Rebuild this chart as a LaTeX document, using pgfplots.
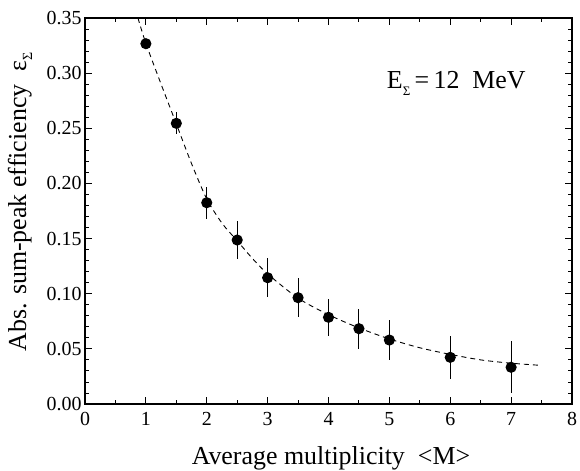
\documentclass[border=0pt]{standalone}
\usepackage{fontspec}
\setmainfont{Liberation Serif}
\usepackage{pgfplots}
\pgfplotsset{compat=1.18}
\begin{document}
\begin{tikzpicture}[x=1bp,y=1bp]
\begin{axis}[
  name=ax,
  scale only axis,
  width=487bp, height=386bp,
  xmin=0, xmax=8, ymin=0, ymax=0.35,
  xtick={0,1,...,8}, minor x tick num=1,
  ytick={0,0.05,...,0.351}, minor y tick num=4,
  tick align=inside,
  major tick length=7bp, minor tick length=4bp,
  every tick/.style={black, line width=0.9pt},
  axis line style={line width=1.1pt},
  /pgf/number format/assume math mode=true,
  yticklabel style={/pgf/number format/.cd, fixed, fixed zerofill, precision=2},
  xticklabel style={yshift=-5bp, /pgf/number format/.cd, fixed},
  tick label style={font=\fontsize{20}{23}\selectfont},
  label style={font=\fontsize{26}{30}\selectfont},
  xlabel={Average multiplicity\ \ <M>},
  ylabel={Abs. sum-peak efficiency\ \ ε\raisebox{-0.5ex}{\fontsize{14}{16}\selectfont Σ}},
  xlabel style={at={(axis description cs:0.505,-0.158)}, anchor=base},
  ylabel style={at={(axis description cs:-0.1335,0.523)}, anchor=center},
]
\addplot[black, line width=0.9pt, dash pattern=on 5bp off 4bp, smooth, tension=0.5] coordinates {
(0.87,0.350) (1.0,0.327) (1.25,0.290) (1.5,0.254) (1.75,0.218) (2.0,0.186)
(2.25,0.164) (2.5,0.148) (2.75,0.132) (3.0,0.118) (3.5,0.096) (4.0,0.081)
(4.5,0.069) (5.0,0.059) (5.5,0.051) (6.0,0.045) (6.5,0.040) (7.0,0.037) (7.5,0.035)
};
\addplot[black, only marks, mark=*, mark size=5bp, line width=1.1pt,
  error bars/.cd, y dir=both, y explicit, error mark=none,
  error bar style={line width=1.1pt}] coordinates {
(1.0,0.3267) +- (0,0)
(1.5,0.2545) +- (0,0.0100)
(2.0,0.1825) +- (0,0.0145)
(2.5,0.1487) +- (0,0.0175)
(3.0,0.1145) +- (0,0.0175)
(3.5,0.0964) +- (0,0.0177)
(4.0,0.0786) +- (0,0.0168)
(4.5,0.0683) +- (0,0.0180)
(5.0,0.0580) +- (0,0.0180)
(6.0,0.0423) +- (0,0.0195)
(7.0,0.0333) +- (0,0.0237)
};
\node[font=\fontsize{26}{30}\selectfont] at (axis cs:6.1,0.291) {E\raisebox{-0.6ex}{\fontsize{13}{15}\selectfont Σ}\,=\,12\ \ MeV};
\end{axis}
\pgfresetboundingbox
\path ([shift={(-85bp,-66bp)}]ax.south west) rectangle ([shift={(8bp,18bp)}]ax.north east);
\end{tikzpicture}
\end{document}
